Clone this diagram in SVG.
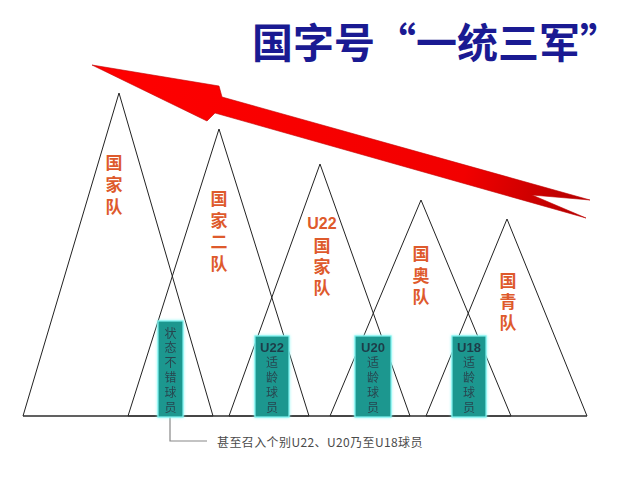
<svg xmlns="http://www.w3.org/2000/svg" width="640" height="480" viewBox="0 0 640 480">
  <defs>
    <linearGradient id="arrowGrad" x1="92" y1="65" x2="590" y2="205" gradientUnits="userSpaceOnUse">
      <stop offset="0" stop-color="#ff0000"/>
      <stop offset="0.75" stop-color="#f20000"/>
      <stop offset="1" stop-color="#b00000"/>
    </linearGradient>
    <filter id="glow" x="-30%" y="-10%" width="160%" height="120%">
      <feGaussianBlur in="SourceAlpha" stdDeviation="1.5" result="b"/>
      <feFlood flood-color="#8ff8f4"/>
      <feComposite in2="b" operator="in" result="g"/>
      <feMerge><feMergeNode in="g"/><feMergeNode in="SourceGraphic"/></feMerge>
    </filter>
  </defs>
  <style>
    .tri { fill: none; stroke: #222; stroke-width: 1; }
    .base { stroke: #333; stroke-width: 1.2; }
    .lbl { font-family: "Noto Sans CJK SC", "Noto Sans", sans-serif; font-size: 17px; font-weight: bold; fill: #de5a2c; writing-mode: vertical-rl; text-anchor: start; }
    .lu { font-family: "Liberation Sans", "Noto Sans CJK SC", sans-serif; font-size: 16px; font-weight: bold; fill: #de5a2c; text-anchor: middle; }
    .box { fill: #1f978f; stroke: #7ff2ee; stroke-width: 1.2; }
    .bt { font-family: "Noto Sans CJK SC", sans-serif; font-size: 12px; fill: #274650; writing-mode: vertical-rl; text-anchor: start; letter-spacing: 3px; }
    .bu { font-family: "Liberation Sans", "Noto Sans CJK SC", sans-serif; font-size: 13px; font-weight: bold; fill: #1d3c48; text-anchor: middle; }
    .conn { fill: none; stroke: #888; stroke-width: 1.2; }
    .note { font-family: "Noto Sans CJK SC", sans-serif; font-size: 12px; letter-spacing: 0.4px; fill: #4a4a4a; }
    .title { font-family: "Noto Sans CJK SC", sans-serif; font-size: 41px; font-weight: bold; fill: #1a1a92; }
  </style>
  <rect width="640" height="480" fill="#ffffff"/>

  <text class="title" x="252" y="58">国字号“一统三军”</text>

  <g id="triangles">
    <g id="n-guojiadui">
      <polygon class="tri" points="23,416 119,93 213,416"/>
      <text class="lbl" x="114" y="154.5" style="letter-spacing:5px">国家队</text>
    </g>
    <g id="n-guojiaerdui">
      <polygon class="tri" points="128,416 219,129 309,416"/>
      <text class="lbl" x="219" y="190" style="letter-spacing:4.7px">国家二队</text>
    </g>
    <g id="n-u22">
      <polygon class="tri" points="229,416 320,164 410,416"/>
      <text class="lu" x="322" y="229">U22</text>
      <text class="lbl" x="322" y="237.5" style="letter-spacing:4px">国家队</text>
    </g>
    <g id="n-guoaodui">
      <polygon class="tri" points="330,416 421,200 511,416"/>
      <text class="lbl" x="421" y="245.5" style="letter-spacing:4.5px">国奥队</text>
    </g>
    <g id="n-guoqingdui">
      <polygon class="tri" points="426,416 507,219 587,416"/>
      <text class="lbl" x="508" y="272.5" style="letter-spacing:4px">国青队</text>
    </g>
    <line class="base" x1="23" y1="416" x2="587" y2="416"/>
  </g>

  <g id="arrow">
    <polygon points="92,65 219,86 222,97 590,200 532,195 586,218 215,113 207,121" fill="url(#arrowGrad)" stroke="#c00000" stroke-width="0.6" stroke-linejoin="round"/>
  </g>

  <g id="connectors">
    <polyline class="conn" points="170,417 170,441 207,441"/>
  </g>

  <g id="box-zhuangtai" filter="url(#glow)">
    <rect class="box" x="158" y="321" width="25" height="96"/>
    <text class="bt" x="170.5" y="327" style="letter-spacing:2.8px">状态不错球员</text>
  </g>
  <g id="box-u22" filter="url(#glow)">
    <rect class="box" x="255" y="336" width="34" height="81"/>
    <text class="bu" x="272" y="352">U22</text>
    <text class="bt" x="272" y="356">适龄球员</text>
  </g>
  <g id="box-u20" filter="url(#glow)">
    <rect class="box" x="355" y="336" width="36" height="81"/>
    <text class="bu" x="373" y="352">U20</text>
    <text class="bt" x="373" y="356">适龄球员</text>
  </g>
  <g id="box-u18" filter="url(#glow)">
    <rect class="box" x="452" y="336" width="34" height="81"/>
    <text class="bu" x="469" y="352">U18</text>
    <text class="bt" x="469" y="356">适龄球员</text>
  </g>

  <g id="note">
    <text class="note" x="217" y="447">甚至召入个别U22、U20乃至U18球员</text>
  </g>
</svg>
